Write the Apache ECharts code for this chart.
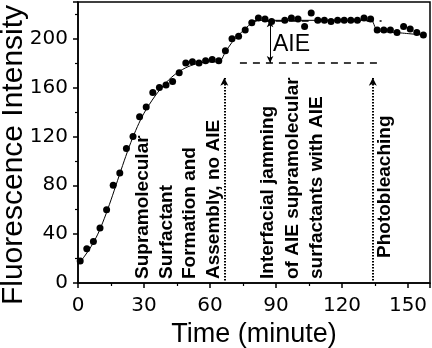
<!DOCTYPE html>
<html>
<head>
<meta charset="utf-8">
<script src="https://cdn.jsdelivr.net/npm/echarts@6.0.0/dist/echarts.min.js"></script>
<style>html,body{margin:0;padding:0;background:#fff;}#c{width:432px;height:348px;}</style>
</head>
<body>
<div id="c"></div>
<script>
// Measured points (time in minutes, fluorescence intensity)
var timePoints = [1,4,7,10,13,16,19,22,25,28,31,34,37,40,43,46,49,52,55,58,61,64,
  67,70,73,76,79,82,85,88,94,97,100,103,106,109,112,115,118,121,124,127,130,133,
  136,139,142,145,148,151,154,157];
var intensityPoints = [18,28,34,45,60,80,90,110,120,136,144,156,160,162,165,172,180,181,180,182,183,182,
  190,200,202,207,213,217,216,214,215,217,216,210,221,215,215,214,215,215,215,215,217,216,
  207,207,207,205,210,208,205,203];
// Fitted curve
var fitTime  = [0,3,6,9,12,15,18,21,24,27,30,35,40,45,50,55,60,64,67,70,73,76,79,82,133,136,145,157];
var fitValue = [15,22,30,40,53,68,84,100,115,128,139,153,164,172,177,180,181,181,189,197,203,208,213,215,215,207,205,203];
// Annotations
var aieLow = 180, aieHigh = 215;
var lowDashStart = 73.6, lowDashEnd = 137;
var highDashStart = 78, highDashEnd = 138;
var aieArrowTime = 87.3;
var stageArrows = [66.5, 134];
var stageArrowTop = 168;
var xTicks = [0,30,60,90,120,150];
var yTicks = [0,40,80,120,160,200];

var chart = echarts.init(document.getElementById('c'), null, {renderer:'canvas'});
var pts = timePoints.map(function(t,i){return [t, intensityPoints[i]];});
var fit = fitTime.map(function(t,i){return [t, fitValue[i]];});
var lblFont = 'DejaVu Sans';
var titleFont = 'Liberation Sans';

var axisCommon = {
  axisLine:{show:true, lineStyle:{color:'#000', width:1.5}},
  axisTick:{show:true, inside:false, length:5, lineStyle:{color:'#000', width:1.5}},
  minorTick:{show:true, splitNumber:2, length:3, lineStyle:{color:'#000', width:1.2}},
  splitLine:{show:false},
  axisLabel:{color:'#000', fontFamily:lblFont, fontSize:20, showMaxLabel:false}
};

var option = {
  animation:false,
  backgroundColor:'#fff',
  grid:{left:78, right:2, top:2, bottom:65, show:true, borderColor:'#000', borderWidth:1.5,
        containLabel:false, outerBoundsMode:'none'},
  xAxis: Object.assign({}, axisCommon, {
    type:'value', min:0, max:160, interval:30,
    name:'Time (minute)', nameLocation:'middle', nameGap:34,
    nameTextStyle:{color:'#000', fontFamily:titleFont, fontSize:27},
    axisLabel:Object.assign({}, axisCommon.axisLabel, {margin:13})
  }),
  yAxis: Object.assign({}, axisCommon, {
    type:'value', min:0, max:230, interval:40,
    name:'Fluorescence Intensity', nameLocation:'middle', nameGap:49, nameMoveOverlap:false,
    nameTextStyle:{color:'#000', fontFamily:titleFont, fontSize:30, padding:[0,25,0,0]},
    axisLabel:Object.assign({}, axisCommon.axisLabel, {margin:10})
  }),
  series:[
    {
      type:'line', data:fit, smooth:0.3, showSymbol:false, symbol:'none',
      lineStyle:{color:'#000', width:1}, z:2,
      markLine:{
        silent:true, symbol:['none','none'], label:{show:false},
        lineStyle:{color:'#000', width:1.6, type:[7,6]},
        data:[
          [{coord:[lowDashStart, aieLow]},{coord:[lowDashEnd, aieLow]}],
          [{coord:[highDashStart, aieHigh]},{coord:[highDashEnd, aieHigh]}]
        ]
      }
    },
    {
      type:'line', data:[], z:3,
      markLine:{
        silent:true, label:{show:false}, symbol:['arrow','arrow'], symbolSize:[5,7],
        lineStyle:{color:'#000', width:1, type:'solid'},
        data:[
          [{coord:[aieArrowTime, aieLow]},{coord:[aieArrowTime, aieHigh]}]
        ]
      }
    },
    {
      type:'line', data:[], z:3,
      markLine:{
        silent:true, label:{show:false}, symbol:['none','arrow'], symbolSize:[6,8],
        lineStyle:{color:'#000', width:2, type:[1.5,1.5]},
        data: stageArrows.map(function(t){return [{coord:[t, 2]},{coord:[t, stageArrowTop]}];})
      }
    },
    {
      type:'scatter', data:pts, symbol:'circle', symbolSize:7,
      itemStyle:{color:'#000', opacity:1}, z:5
    }
  ],
  graphic:[
    {type:'text', x:273, y:33, style:{text:'AIE', font:'23px "Liberation Sans"', fill:'#000', textAlign:'left', textVerticalAlign:'top'}},
    {type:'text', x:131, y:279, rotation:Math.PI/2,
      style:{text:'Supramolecular\nSurfactant\nFormation and\nAssembly, no AIE', font:'bold 19px "Liberation Sans"', lineHeight:23.7, fill:'#000', textAlign:'left', textVerticalAlign:'top'}},
    {type:'text', x:256, y:279, rotation:Math.PI/2,
      style:{text:'Interfacial jamming\nof AIE supramolecular\nsurfactants with AIE', font:'bold 19px "Liberation Sans"', lineHeight:24.5, fill:'#000', textAlign:'left', textVerticalAlign:'top'}},
    {type:'text', x:373, y:258, rotation:Math.PI/2,
      style:{text:'Photobleaching', font:'bold 19px "Liberation Sans"', lineHeight:24, fill:'#000', textAlign:'left', textVerticalAlign:'top'}}
  ]
};
chart.setOption(option);
</script>
</body>
</html>
